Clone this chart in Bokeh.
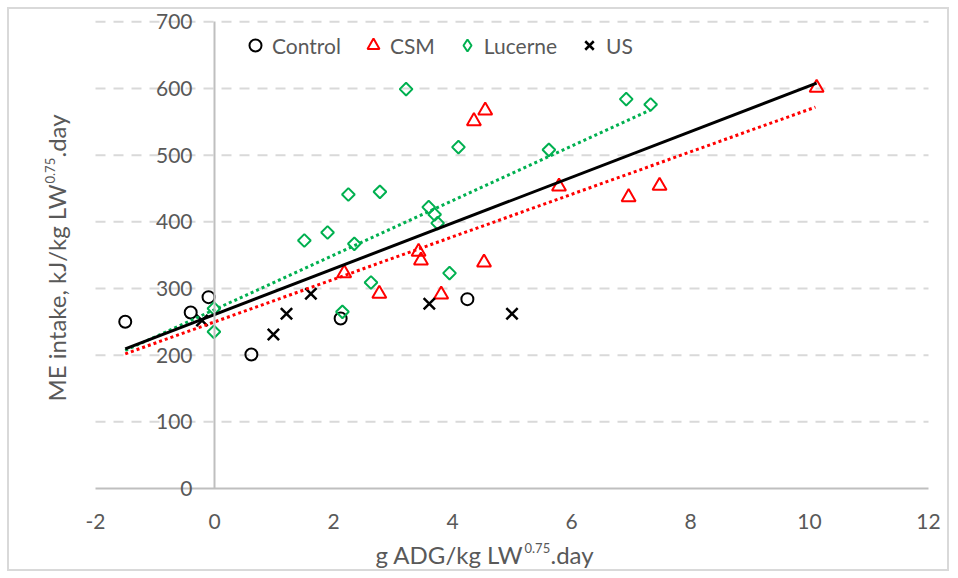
import math
from bokeh.plotting import figure
from bokeh.models import Legend, LegendItem, Label, Range1d, FixedTicker
from bokeh.embed import file_html
from bokeh.resources import INLINE

# ---- data ----
control_x = [-1.5, -0.40, -0.10, 0.62, 2.12, 4.25]
control_y = [250, 264, 287, 201, 255, 284]

csm_x = [2.18, 2.77, 3.43, 3.47, 3.81, 4.36, 4.55, 4.53, 5.79, 6.96, 7.48, 10.12]
csm_y = [323, 292, 355, 342, 291, 551, 567, 339, 453, 437, 454, 601]

lucerne_x = [-0.01, -0.01, 1.51, 1.90, 2.15, 2.25, 2.35, 2.63, 2.78, 3.22, 3.60, 3.70, 3.75, 3.95, 4.10, 5.62, 6.92, 7.33]
lucerne_y = [270, 235, 372, 384, 265, 441, 367, 309, 445, 599, 422, 411, 398, 323, 512, 508, 584, 576]

us_x = [-0.21, 0.99, 1.21, 1.62, 3.61, 5.00]
us_y = [252, 231, 262, 292, 277, 262]

# trend lines (end points)
all_trend_x = [-1.5, 10.12]
all_trend_y = [209.5, 608]
csm_trend_x = [-1.5, 10.10]
csm_trend_y = [202, 572]
lucerne_trend_x = [-1.5, 7.33]
lucerne_trend_y = [207, 568]

x_ticks = [-2, 0, 2, 4, 6, 8, 10, 12]
y_ticks = [0, 100, 200, 300, 400, 500, 600, 700]

FONT = "Lato"
GREY = "#595959"
RED = "#ff0000"
GREEN = "#00b050"

# ---- layout (page pixels) ----
CANVAS_L, CANVAS_T, CANVAS_W, CANVAS_H = 9, 9, 942, 564
PLOT_L, PLOT_R, PLOT_T, PLOT_B = 95, 928, 21.3, 488
x_lo, x_hi = x_ticks[0], x_ticks[-1]
y_lo, y_hi = y_ticks[0], y_ticks[-1]
sx = (PLOT_R - PLOT_L) / (x_hi - x_lo)
sy = (PLOT_B - PLOT_T) / (y_hi - y_lo)
x_range = Range1d(x_lo - (PLOT_L - CANVAS_L) / sx, x_hi + (CANVAS_L + CANVAS_W - PLOT_R) / sx)
y_range = Range1d(y_lo - (CANVAS_T + CANVAS_H - PLOT_B) / sy, y_hi + (PLOT_T - CANVAS_T) / sy)


def sxp(page_x):   # page x -> screen units of the frame
    return page_x - CANVAS_L


def syp(page_y):   # page y -> screen units of the frame (from bottom)
    return CANVAS_T + CANVAS_H - page_y


p = figure(width=CANVAS_W, height=CANVAS_H, x_range=x_range, y_range=y_range,
           output_backend="svg", toolbar_location=None, min_border=0)
p.styles = {"border": "2px solid #d9d9d9", "margin": "7px 0px 0px 7px"}
p.outline_line_color = None
p.background_fill_color = "white"
p.border_fill_color = "white"

# axes, drawn through the data at x = 0 and y = 0
p.xaxis.fixed_location = 0
p.xaxis.bounds = (x_lo, x_hi)
p.xaxis.ticker = FixedTicker(ticks=x_ticks)
p.xaxis.major_label_overrides = {t: str(t) for t in x_ticks}
p.yaxis.fixed_location = 0
p.yaxis.bounds = (y_lo, y_hi)
p.yaxis.ticker = FixedTicker(ticks=y_ticks)
for ax in (p.xaxis[0], p.yaxis[0]):
    ax.axis_line_color = "#bfbfbf"
    ax.axis_line_width = 2
    ax.major_tick_line_color = None
    ax.minor_tick_line_color = None
    ax.major_tick_out = 0
    ax.major_tick_in = 0
    ax.major_label_text_font = FONT
    ax.major_label_text_font_size = "21px"
    ax.major_label_text_color = GREY
p.xaxis.major_label_standoff = 25
p.yaxis.major_label_standoff = 22
p.xgrid.visible = False
p.ygrid.visible = False

# horizontal dashed gridlines spanning the x axis extent
gy = y_ticks[1:]
p.segment(x0=[x_lo] * len(gy), x1=[x_hi] * len(gy), y0=gy, y1=gy,
          line_color="#d9d9d9", line_width=2, line_dash="10 8")

# markers
r_ctrl = p.scatter(control_x, control_y, marker="circle", size=12, fill_color=None,
                   line_color="black", line_width=2)
r_csm = p.scatter(csm_x, csm_y, marker="triangle", size=14, fill_color=None,
                  line_color=RED, line_width=2)
p.scatter(lucerne_x, lucerne_y, marker="square", size=9, angle=math.pi / 4,
          fill_color=None, line_color=GREEN, line_width=2)
r_us = p.scatter(us_x, us_y, marker="x", size=16, line_color="black", line_width=2.5)
# legend swatch for Lucerne (legend glyphs are never rotated): hidden diamond renderer
r_luc_key = p.scatter(lucerne_x, lucerne_y, marker="diamond", size=14, fill_color=None,
                      line_color=GREEN, line_width=2, visible=False)

# trend lines
p.line(lucerne_trend_x, lucerne_trend_y, line_color=GREEN, line_width=3, line_dash="3 3")
p.line(csm_trend_x, csm_trend_y, line_color=RED, line_width=3, line_dash="3 3")
p.line(all_trend_x, all_trend_y, line_color="black", line_width=3)

# x title with superscript
TFS = "24px"
SFS = "13px"
xb, xy = sxp(523), syp(554)
p.add_layout(Label(x=xb, y=xy, x_units="screen", y_units="screen", text="g ADG/kg LW",
                   text_font=FONT, text_font_size=TFS, text_color=GREY,
                   text_align="right", text_baseline="middle"))
p.add_layout(Label(x=xb + 1, y=xy + 7, x_units="screen", y_units="screen", text="0.75",
                   text_font=FONT, text_font_size=SFS, text_color=GREY,
                   text_align="left", text_baseline="middle"))
p.add_layout(Label(x=xb + 27, y=xy, x_units="screen", y_units="screen", text=".day",
                   text_font=FONT, text_font_size=TFS, text_color=GREY,
                   text_align="left", text_baseline="middle"))

legend = Legend(items=[
    LegendItem(label="Control", renderers=[r_ctrl]),
    LegendItem(label="CSM", renderers=[r_csm]),
    LegendItem(label="Lucerne", renderers=[r_luc_key]),
    LegendItem(label="US", renderers=[r_us]),
], orientation="horizontal", location=(sxp(240), syp(60)))
legend.glyph_width = 30
legend.glyph_height = 30
legend.label_standoff = 2
legend.spacing = 17
legend.padding = 0
legend.margin = 0
legend.border_line_color = None
legend.background_fill_alpha = 0
legend.inactive_fill_alpha = 0
legend.label_text_font = FONT
legend.label_text_font_size = "21px"
legend.label_text_color = GREY
p.add_layout(legend, "center")

# y title (rotated, reads upward) with superscript
yx, yb = sxp(56), syp(184)
p.add_layout(Label(x=yx, y=yb, x_units="screen", y_units="screen",
                   text="ME intake, kJ/kg LW", angle=90, angle_units="deg",
                   text_font=FONT, text_font_size=TFS, text_color=GREY,
                   text_align="right", text_baseline="middle"))
p.add_layout(Label(x=yx - 7, y=yb + 1, x_units="screen", y_units="screen", text="0.75",
                   angle=90, angle_units="deg",
                   text_font=FONT, text_font_size=SFS, text_color=GREY,
                   text_align="left", text_baseline="middle"))
p.add_layout(Label(x=yx, y=yb + 27, x_units="screen", y_units="screen", text=".day",
                   angle=90, angle_units="deg",
                   text_font=FONT, text_font_size=TFS, text_color=GREY,
                   text_align="left", text_baseline="middle"))

open("out.html", "w").write(file_html(p, INLINE))
